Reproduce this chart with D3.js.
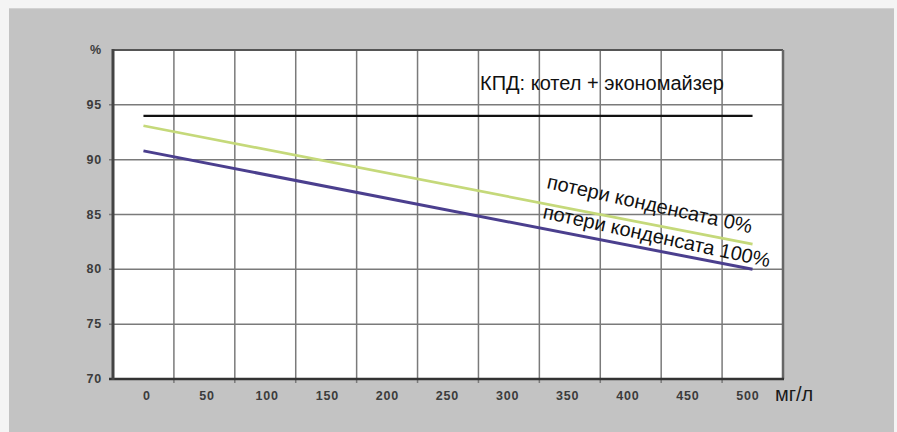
<!DOCTYPE html>
<html>
<head>
<meta charset="utf-8">
<script src="https://cdn.jsdelivr.net/npm/d3@7"></script>
<style>
  body { margin: 0; background: #f4f4f4; }
  svg { display: block; font-family: "Liberation Sans", Arial, sans-serif; }
  .tick-label { font-size: 12.5px; font-weight: bold; fill: #3c3c3c; letter-spacing: 0.8px; }
</style>
</head>
<body>
<svg width="897" height="432"></svg>
<script>
// данные графика
const xTicks = [0, 50, 100, 150, 200, 250, 300, 350, 400, 450, 500];
const yTicks = [70, 75, 80, 85, 90, 95];
const xValues = [0, 500];
const kpdValues = [94.0, 94.0];        // КПД: котел + экономайзер
const loss0Values = [93.1, 82.3];      // потери конденсата 0%
const loss100Values = [90.8, 80.0];    // потери конденсата 100%
const seriesNames = ["КПД: котел + экономайзер", "потери конденсата 0%", "потери конденсата 100%"];
const xUnit = "мг/л";
const yUnit = "%";

const svg = d3.select("svg");

// серый фон
svg.append("rect")
  .attr("x", 9).attr("y", 8)
  .attr("width", 885).attr("height", 424)
  .attr("fill", "#c3c3c3");
svg.append("line")
  .attr("x1", 9).attr("x2", 894).attr("y1", 8.5).attr("y2", 8.5)
  .attr("stroke", "#d2d2d2");

const plot = { left: 113, right: 783, top: 50, bottom: 379 };

const x = d3.scaleLinear()
  .domain([-25, 525])
  .range([plot.left, plot.right]);

// подписи по оси x стоят немного теснее, чем сетка
const xLabel = d3.scaleLinear()
  .domain([0, 500])
  .range([147, 748]);

const y = d3.scaleLinear()
  .domain([70, 100])
  .range([plot.bottom, plot.top]);

const g = svg.append("g");

// белая область графика
g.append("rect")
  .attr("x", plot.left).attr("y", plot.top)
  .attr("width", plot.right - plot.left).attr("height", plot.bottom - plot.top)
  .attr("fill", "#ffffff");

// сетка
const vGrid = d3.range(25, 500, 50);
g.selectAll(".vgrid")
  .data(vGrid)
  .enter()
  .append("line")
  .attr("x1", d => x(d)).attr("x2", d => x(d))
  .attr("y1", plot.top).attr("y2", plot.bottom + 4)
  .attr("stroke", "#7a7a7a")
  .attr("stroke-width", 1.5);

g.selectAll(".hgrid")
  .data(yTicks.filter(d => d > 70))
  .enter()
  .append("line")
  .attr("x1", plot.left - 4).attr("x2", plot.right)
  .attr("y1", d => y(d)).attr("y2", d => y(d))
  .attr("stroke", "#7a7a7a")
  .attr("stroke-width", 1.5);

// рамка
g.append("line")
  .attr("x1", plot.left).attr("x2", plot.right)
  .attr("y1", plot.top).attr("y2", plot.top)
  .attr("stroke", "#555").attr("stroke-width", 2);
g.append("line")
  .attr("x1", plot.right).attr("x2", plot.right)
  .attr("y1", plot.top).attr("y2", plot.bottom)
  .attr("stroke", "#666").attr("stroke-width", 2.5);
g.append("line")
  .attr("x1", plot.left - 4).attr("x2", plot.right + 1)
  .attr("y1", plot.bottom).attr("y2", plot.bottom)
  .attr("stroke", "#333").attr("stroke-width", 2.5);
g.append("line")
  .attr("x1", plot.left).attr("x2", plot.left)
  .attr("y1", plot.top - 1).attr("y2", plot.bottom + 1)
  .attr("stroke", "#444").attr("stroke-width", 3);

// подписи осей
g.selectAll(".xlab")
  .data(xTicks)
  .enter()
  .append("text")
  .attr("class", "tick-label")
  .attr("x", d => xLabel(d))
  .attr("y", 400)
  .attr("text-anchor", "middle")
  .text(d => d);

g.selectAll(".ylab")
  .data(yTicks)
  .enter()
  .append("text")
  .attr("class", "tick-label")
  .attr("x", 102)
  .attr("y", d => y(d) + 4)
  .attr("text-anchor", "end")
  .text(d => d);

g.append("text")
  .attr("class", "tick-label")
  .attr("x", 102)
  .attr("y", y(100) + 4)
  .attr("text-anchor", "end")
  .text(yUnit);

g.append("text")
  .attr("x", 775)
  .attr("y", 401)
  .attr("font-size", 20)
  .attr("fill", "#1a1a1a")
  .text(xUnit);

// линии
const line = d3.line()
  .x(d => x(d[0]))
  .y(d => y(d[1]));

const series = [
  { values: kpdValues, color: "#111111", width: 2.2 },
  { values: loss0Values, color: "#c5d97a", width: 2.6 },
  { values: loss100Values, color: "#4b3f8e", width: 3 }
];

g.selectAll(".series")
  .data(series)
  .enter()
  .append("path")
  .attr("d", s => line(xValues.map((v, i) => [v, s.values[i]])))
  .attr("fill", "none")
  .attr("stroke", s => s.color)
  .attr("stroke-width", s => s.width);

// подписи линий
g.append("text")
  .attr("x", 480)
  .attr("y", 90)
  .attr("font-size", 20)
  .attr("fill", "#111")
  .text(seriesNames[0]);

g.append("text")
  .attr("transform", "translate(546,188) rotate(12.5)")
  .attr("font-size", 20)
  .attr("fill", "#111")
  .text(seriesNames[1]);

g.append("text")
  .attr("transform", "translate(542,218) rotate(12.3)")
  .attr("font-size", 20)
  .attr("fill", "#111")
  .text(seriesNames[2]);
</script>
</body>
</html>
